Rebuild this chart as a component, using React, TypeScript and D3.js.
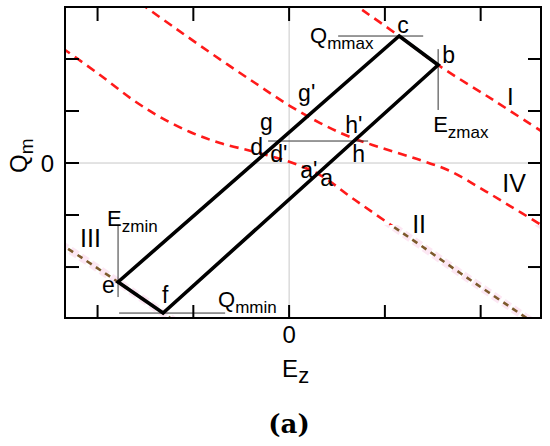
import React from 'react';
import * as d3 from 'd3';

// ---- data (E_z, Q_m in chart units) ----
const xTicks = [-2, -1, 0, 1, 2];
const yTicks = [-2, -1, 0, 1, 2];

const curveI_E = [0.637, 0.721, 1.149, 1.556, 2.131, 2.632, 2.778];
const curveI_Q = [3.115, 3.0, 2.442, 1.885, 1.212, 0.615, 0.442];

const curveIV_E = [-1.556, -1.191, -0.773, -0.355, 0.01, 0.324, 0.637, 1.003, 1.368, 1.681, 1.995, 2.308, 2.632, 2.778];
const curveIV_Q = [3.077, 2.596, 2.058, 1.538, 1.096, 0.769, 0.5, 0.269, 0.058, -0.154, -0.481, -0.827, -1.192, -1.365];

const curveII_E = [-2.496, -2.339, -1.974, -1.629, -1.347, -1.034, -0.721, -0.355, 0.01, 0.324, 0.658, 1.003, 1.368, 1.786, 2.465, 2.621];
const curveII_Q = [2.365, 2.173, 1.692, 1.212, 0.885, 0.596, 0.385, 0.212, 0.019, -0.231, -0.673, -1.115, -1.577, -2.115, -2.962, -3.154];

const curveIII_E = [-2.601, -2.339, -1.786, -1.316, -1.138];
const curveIII_Q = [-1.327, -1.615, -2.288, -2.885, -3.115];

// loop vertices c, b, f, e
const loopE = [1.149, 1.556, -1.316, -1.786];
const loopQ = [2.442, 1.885, -2.885, -2.288];

const colorSwitchQ = -1.19;

// reference lines: [E1, Q1, E2, Q2]
const refLines = [
  [0.512, 2.442, 1.4, 2.442], // Qmmax
  [1.556, 2.19, 1.556, 1.02], // Ezmax
  [-1.786, -1.19, -1.786, -2.577], // Ezmin
  [-1.775, -2.885, -0.668, -2.885], // Qmmin
  [-0.219, 0.423, 0.825, 0.423], // d'-h
];

// point / curve labels: text, E, Q, subscript, size
const labelText = ['c', 'b', 'Q', 'E', 'I', "g'", 'g', 'd', "d'", "h'", 'h', "a'", 'a', 'IV', 'II', 'III', 'E', 'e', 'f', 'Q'];
const labelSub = ['', '', 'mmax', 'zmax', '', '', '', '', '', '', '', '', '', '', '', '', 'zmin', '', '', 'mmin'];
const labelE = [1.128, 1.598, 0.219, 1.504, 2.275, 0.094, -0.303, -0.407, -0.198, 0.585, 0.658, 0.115, 0.324, 2.225, 1.285, -2.183, -1.901, -1.953, -1.326, -0.742];
const labelQ = [2.5, 1.923, 2.308, 0.596, 1.115, 1.192, 0.635, 0.154, 0.019, 0.577, 0.019, -0.288, -0.442, -0.558, -1.346, -1.615, -1.212, -2.5, -2.692, -2.769];
const labelSize = [23, 23, 22, 22, 24, 23, 23, 23, 23, 23, 23, 23, 23, 25, 25, 25, 22, 23, 23, 22];

const W = 550;
const H = 446;
const M = { left: 65, right: 541, top: 7, bottom: 318 };

const x = d3.scaleLinear().domain([-2.34, 2.63]).range([M.left, M.right]);
const y = d3.scaleLinear().domain([-2.98, 3.0]).range([M.bottom, M.top]);

const line = d3
  .line<[number, number]>()
  .x((d) => x(d[0]))
  .y((d) => y(d[1]))
  .curve(d3.curveCatmullRom.alpha(0.5));

const zip = (a: number[], b: number[]) => a.map((v, i) => [v, b[i]] as [number, number]);

const curves = [
  zip(curveI_E, curveI_Q),
  zip(curveIV_E, curveIV_Q),
  zip(curveII_E, curveII_Q),
  zip(curveIII_E, curveIII_Q),
];

const FONT = '"Liberation Sans", Arial, Helvetica, sans-serif';
const RED = '#ff1a1a';
const BROWN = '#7d5a2c';

export default function App() {
  const ySwitch = y(colorSwitchQ);
  const loopPath = d3.line<[number, number]>().x((d) => x(d[0])).y((d) => y(d[1]))(zip(loopE, loopQ)) + 'Z';
  return (
    <svg
      width={W}
      height={H}
      style={{ position: 'absolute', left: 0, top: 0, background: '#fff' }}
      fontFamily={FONT}
    >
      <defs>
        <clipPath id="top">
          <rect x={M.left} y={M.top} width={M.right - M.left} height={ySwitch - M.top} />
        </clipPath>
        <clipPath id="bot">
          <rect x={M.left} y={ySwitch} width={M.right - M.left} height={M.bottom - ySwitch} />
        </clipPath>
      </defs>
      <rect x={0} y={0} width={W} height={H} fill="#fff" />
      {/* zero lines */}
      <line x1={M.left} x2={M.right} y1={y(0)} y2={y(0)} stroke="#c8c8c8" strokeWidth={1} />
      <line x1={x(0)} x2={x(0)} y1={M.top} y2={M.bottom} stroke="#c8c8c8" strokeWidth={1} />

      {/* curves */}
      <g clipPath="url(#top)">
        {curves.map((c, i) => (
          <path key={i} d={line(c) || ''} fill="none" stroke={RED} strokeWidth={2.6} strokeDasharray="9,6" />
        ))}
      </g>
      <g clipPath="url(#bot)">
        {curves.map((c, i) => (
          <path key={'p' + i} d={line(c) || ''} fill="none" stroke="#fbe1f0" strokeWidth={8} strokeDasharray="8,4" opacity={0.8} />
        ))}
        {curves.map((c, i) => (
          <path key={i} d={line(c) || ''} fill="none" stroke={BROWN} strokeWidth={2.6} strokeDasharray="6,5" />
        ))}
      </g>

      {/* reference lines */}
      {refLines.map((r, i) => (
        <line key={i} x1={x(r[0])} y1={y(r[1])} x2={x(r[2])} y2={y(r[3])} stroke="#333" strokeWidth={1} />
      ))}

      {/* loop */}
      <path d={loopPath} fill="none" stroke="#000" strokeWidth={3.6} strokeLinejoin="miter" />

      {/* labels */}
      {labelText.map((t, i) => (
        <text key={i} x={x(labelE[i])} y={y(labelQ[i])} fontSize={labelSize[i]} fill="#000">
          {t}
          {labelSub[i] ? (
            <tspan fontSize={17} dy={6}>
              {labelSub[i]}
            </tspan>
          ) : null}
        </text>
      ))}

      {/* frame */}
      <rect x={M.left} y={M.top} width={M.right - M.left} height={M.bottom - M.top} fill="none" stroke="#000" strokeWidth={2} />
      {xTicks.map((t) => (
        <g key={'x' + t}>
          <line x1={x(t)} x2={x(t)} y1={M.bottom} y2={M.bottom - 13} stroke="#000" strokeWidth={2} />
          <line x1={x(t)} x2={x(t)} y1={M.top} y2={M.top + 14} stroke="#000" strokeWidth={2} />
        </g>
      ))}
      {yTicks.map((t) => (
        <g key={'y' + t}>
          <line x1={M.left} x2={M.left + 14} y1={y(t)} y2={y(t)} stroke="#000" strokeWidth={2} />
          <line x1={M.right} x2={M.right - 13} y1={y(t)} y2={y(t)} stroke="#000" strokeWidth={2} />
        </g>
      ))}

      {/* tick labels */}
      <text x={x(0)} y={343} fontSize={24} textAnchor="middle">0</text>
      <text x={54} y={y(0) + 9} fontSize={24} textAnchor="end">0</text>

      {/* axis titles */}
      <text x={x(0) - 7} y={377} fontSize={24}>
        E<tspan fontSize={22} dy={6}>z</tspan>
      </text>
      <text transform={`translate(27,173) rotate(-90)`} fontSize={24}>
        Q<tspan fontSize={19} dy={6}>m</tspan>
      </text>

      <text x={289} y={433} fontSize={26} fontWeight="bold" textAnchor="middle" fontFamily='"DejaVu Serif", serif'>
        (a)
      </text>
    </svg>
  );
}
